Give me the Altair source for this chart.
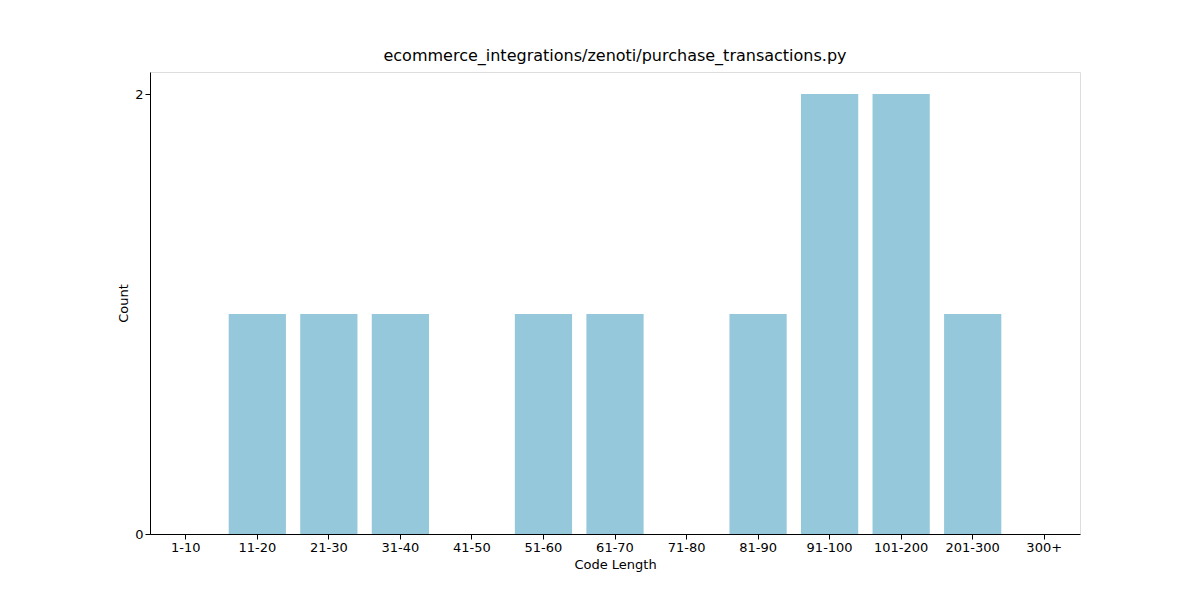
import altair as alt
import pandas as pd

bins = ["1-10", "11-20", "21-30", "31-40", "41-50", "51-60", "61-70",
        "71-80", "81-90", "91-100", "101-200", "201-300", "300+"]
counts = [0, 1, 1, 1, 0, 1, 1, 0, 1, 2, 2, 1, 0]

df = pd.DataFrame({"bin": bins, "count": counts})

chart = (
    alt.Chart(df)
    .mark_bar(color="#96c8dc")
    .encode(
        x=alt.X("bin:N", sort=bins, title="Code Length",
                scale=alt.Scale(paddingInner=0.2, paddingOuter=0.1),
                axis=alt.Axis(labelAngle=0, labelFontSize=13, titleFontSize=13,
                              titleFontWeight="normal", tickColor="black",
                              domainColor="black", labelColor="black")),
        y=alt.Y("count:Q", title="Count",
                scale=alt.Scale(domain=[0, 2.1], nice=False),
                axis=alt.Axis(values=[0, 1, 2], format="d", grid=False,
                              labelFontSize=13, titleFontSize=13,
                              titleFontWeight="normal", tickColor="black",
                              domainColor="black", labelColor="black")),
    )
    .properties(
        width=930, height=462,
        title=alt.TitleParams("ecommerce_integrations/zenoti/purchase_transactions.py",
                              fontSize=16, fontWeight="normal", offset=8),
        autosize=alt.AutoSizeParams(type="none"),
        padding={"left": 142, "top": 64, "right": 104, "bottom": 50},
    )
    .configure_view(stroke="black")
    .configure(font="DejaVu Sans")
)

chart.save("out.html", embed_options={"renderer": "svg", "actions": False})
